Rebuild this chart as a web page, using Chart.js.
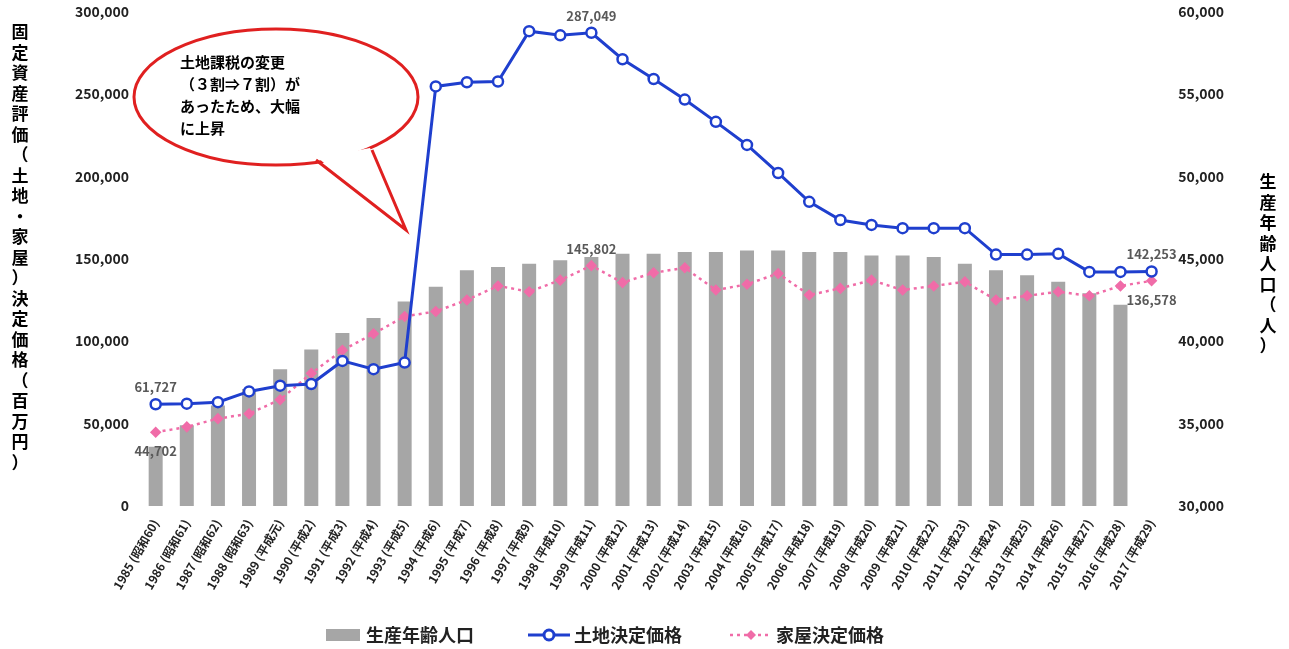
<!DOCTYPE html><html><head><meta charset="utf-8">
<script src="https://cdn.jsdelivr.net/npm/chart.js@4"></script>
<style>body{margin:0;background:#fff}</style></head><body><canvas id="c" width="1289" height="649"></canvas>
<script>
const years=['1985 (昭和60)','1986 (昭和61)','1987 (昭和62)','1988 (昭和63)','1989 (平成元)','1990 (平成2)','1991 (平成3)','1992 (平成4)','1993 (平成5)','1994 (平成6)','1995 (平成7)','1996 (平成8)','1997 (平成9)','1998 (平成10)','1999 (平成11)','2000 (平成12)','2001 (平成13)','2002 (平成14)','2003 (平成15)','2004 (平成16)','2005 (平成17)','2006 (平成18)','2007 (平成19)','2008 (平成20)','2009 (平成21)','2010 (平成22)','2011 (平成23)','2012 (平成24)','2013 (平成25)','2014 (平成26)','2015 (平成27)','2016 (平成28)','2017 (平成29)'];
const population=[33600,34900,36100,37100,38300,39500,40500,41400,42400,43300,44300,44500,44700,44900,45100,45300,45300,45400,45400,45500,45500,45400,45400,45200,45200,45100,44700,44300,44000,43600,42900,42200,null];
const landPrice=[61727,62100,63000,69500,73000,74000,88000,83000,87000,254500,257000,257500,288000,285500,287049,271000,259000,246500,233000,219000,202000,184500,173500,170500,168500,168500,168500,152500,152500,153000,142000,142000,142253];
const housePrice=[44702,48000,53000,56000,64500,80500,94500,104500,115000,118000,125000,133500,130000,137000,145802,135500,141500,144500,131000,134500,141000,128000,132000,137000,131000,133500,136000,125000,127500,130000,127500,133500,136578];
const labels=[[1,0,'61,727','above'],[2,0,'44,702','below'],[1,14,'287,049','above'],[2,14,'145,802','above'],[1,32,'142,253','above'],[2,32,'136,578','below']];
const F='"Noto Sans CJK JP","Noto Sans",sans-serif';
const callout={id:'callout',beforeDatasetsDraw(ch){const x=ch.ctx;x.save();
x.beginPath();x.ellipse(276,97,142,68,0,0,Math.PI*2);x.fillStyle='#fff';x.fill();x.strokeStyle='#e02020';x.lineWidth=3;x.stroke();
x.beginPath();x.moveTo(318,158);x.lineTo(406,230);x.lineTo(370,148);x.fillStyle='#fff';x.fill();
x.beginPath();x.moveTo(316,160);x.lineTo(406,230);x.lineTo(372,150);x.stroke();
x.fillStyle='#000';x.font='bold 15px '+F;x.textAlign='left';
['土地課税の変更','（３割⇒７割）が','あったため、大幅','に上昇'].forEach((s,k)=>x.fillText(s,180,68+k*22));
x.restore();}};
const deco={id:'deco',afterDatasetsDraw(ch){const x=ch.ctx;x.save();
x.font='bold 13px '+F;x.fillStyle='#595959';x.textAlign='center';
labels.forEach(([d,i,t,p])=>{const e=ch.getDatasetMeta(d).data[i];x.fillText(t,e.x,p=='above'?e.y-12:e.y+24);});
x.fillStyle='#000';x.font='bold 17px '+F;
const lt='固定資産評価（土地・家屋）決定価格（百万円）';
for(let k=0;k<lt.length;k++)x.fillText(lt[k],20,38+k*20.5);
const rt='生産年齢人口（人）';for(let k=0;k<rt.length;k++)x.fillText(rt[k],1268,188+k*20.5);
const ly=635;x.textAlign='left';x.textBaseline='middle';x.font='bold 18px '+F;
x.fillStyle='#a6a6a6';x.fillRect(326,ly-6,34,12);x.fillStyle='#222';x.fillText(ch.data.datasets[0].label,366,ly);
x.strokeStyle='#1f3fce';x.lineWidth=3;x.beginPath();x.moveTo(528,ly);x.lineTo(570,ly);x.stroke();
x.beginPath();x.arc(549,ly,5,0,Math.PI*2);x.fillStyle='#fff';x.fill();x.stroke();x.fillStyle='#222';x.fillText(ch.data.datasets[1].label,574,ly);
x.strokeStyle='#f06ca8';x.lineWidth=2.5;x.setLineDash([3,4]);x.beginPath();x.moveTo(730,ly);x.lineTo(772,ly);x.stroke();x.setLineDash([]);
x.fillStyle='#f06ca8';x.beginPath();x.moveTo(751,ly-5);x.lineTo(756,ly);x.lineTo(751,ly+5);x.lineTo(746,ly);x.fill();x.fillStyle='#222';x.fillText(ch.data.datasets[2].label,776,ly);
x.restore();}};
new Chart(document.getElementById('c'),{data:{labels:years,datasets:[
{type:'bar',label:'生産年齢人口',data:population,yAxisID:'y2',backgroundColor:'#a6a6a6',barPercentage:0.45,categoryPercentage:1,order:3},
{type:'line',label:'土地決定価格',data:landPrice,yAxisID:'y',borderColor:'#1f3fce',backgroundColor:'#fff',borderWidth:3,pointRadius:5,pointBorderWidth:2.5,pointBorderColor:'#1f3fce',pointStyle:'circle',order:1},
{type:'line',label:'家屋決定価格',data:housePrice,yAxisID:'y',borderColor:'#f06ca8',backgroundColor:'#f06ca8',borderWidth:2.5,borderDash:[3,4],pointRadius:4,pointStyle:'rectRot',order:2}]},
options:{responsive:false,animation:false,devicePixelRatio:1,layout:{padding:{left:72,right:62,top:8,bottom:54}},
plugins:{legend:{display:false},tooltip:{enabled:false}},
scales:{x:{grid:{display:false},border:{display:false},ticks:{maxRotation:60,minRotation:60,autoSkip:false,font:{size:12,weight:'bold',family:F},color:'#222'}},
y:{position:'left',min:0,max:300000,grid:{display:false},border:{display:false},ticks:{stepSize:50000,font:{size:14,weight:'bold',family:F},color:'#222',callback:v=>v.toLocaleString('en-US')}},
y2:{position:'right',min:30000,max:60000,grid:{display:false},border:{display:false},ticks:{stepSize:5000,font:{size:14,weight:'bold',family:F},color:'#222',callback:v=>v.toLocaleString('en-US')}}}},
plugins:[callout,deco]});
</script></body></html>
